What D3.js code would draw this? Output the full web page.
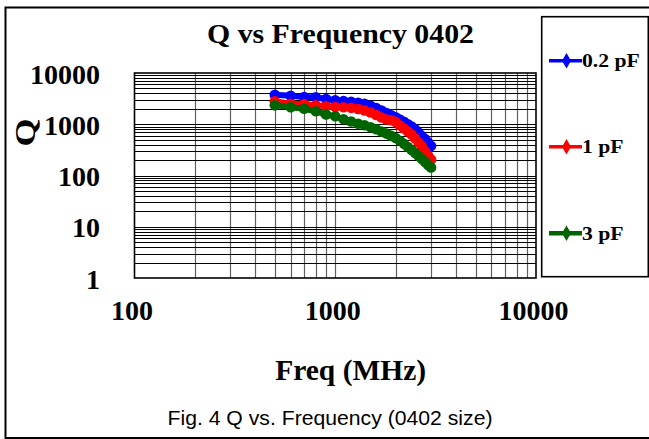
<!DOCTYPE html>
<html><head><meta charset="utf-8">
<script src="https://cdn.jsdelivr.net/npm/d3@7/dist/d3.min.js"></script>
<style>html,body{margin:0;padding:0;background:#fff;}svg{display:block;}</style>
</head><body>
<svg id="c" width="649" height="439"></svg>
<script>
const freqs = [500,600,700,800,900,1000,1100,1200,1300,1400,1500,1600,1700,1800,1900,2000,2100,2200,2300,2400,2500,2600,2700,2800,2900,3000];
const q02pF = [3770,3600,3400,3360,3110,2930,2830,2730,2620,2500,2290,2080,1860,1660,1500,1370,1230,1120,1000,900,800,690,590,515,440,376];
const q1pF  = [2800,2520,2480,2340,2240,2170,2140,2090,1980,1850,1700,1515,1355,1240,1195,1110,945,826,722,631,527,440,368,295,245,205];
const q3pF  = [2340,2140,2010,1790,1550,1430,1250,1130,1025,954,876,801,719,657,593,539,475,415,361,315,275,240,210,183,160,143];
const seriesNames = ["0.2 pF","1 pF","3 pF"];
const seriesColors = ["#0000ff","#ff0000","#006400"];
const xTicks = [100,1000,10000];
const yTicks = [1,10,100,1000,10000];
const titleText = "Q vs Frequency 0402";
const xTitle = "Freq (MHz)";
const yTitle = "Q";
const caption = "Fig. 4 Q vs. Frequency (0402 size)";

const svg = d3.select("#c");
const L = 134.5, R = 536, T = 73, B = 278;
const x = d3.scaleLog().domain([100,10000]).range([L,R]);
const y = d3.scaleLog().domain([1,10000]).range([B,T]);
const serif = "'Liberation Serif','Times New Roman',serif";

// outer frame
svg.append("rect").attr("x",5.5).attr("y",7.5).attr("width",700).attr("height",430.5)
  .attr("fill","none").attr("stroke","#000").attr("stroke-width",2);

// minor grid values
const minorX = [], minorY = [];
[100,1000].forEach(d=>{for(let k=2;k<=9;k++) minorX.push(d*k);});
[1,10,100,1000].forEach(d=>{for(let k=2;k<=9;k++) minorY.push(d*k);});

const g = svg.append("g");
g.selectAll(".vx").data(minorX.concat([1000])).join("line")
  .attr("x1",d=>Math.round(x(d))+0.5).attr("x2",d=>Math.round(x(d))+0.5)
  .attr("y1",T).attr("y2",B).attr("stroke","#606060").attr("stroke-width",1.2);
g.selectAll(".hy").data(minorY.concat([10,100,1000])).join("line")
  .attr("y1",d=>Math.round(y(d))+0.5).attr("y2",d=>Math.round(y(d))+0.5)
  .attr("x1",L).attr("x2",R).attr("stroke","#000").attr("stroke-width",1);
g.append("rect").attr("x",L).attr("y",T).attr("width",R-L).attr("height",B-T)
  .attr("fill","none").attr("stroke","#000").attr("stroke-width",1.6);

// axes labels via d3 axes (no domain/ticks lines)
const xAxis = svg.append("g").attr("transform",`translate(-3,${B})`)
  .call(d3.axisBottom(x).tickValues(xTicks).tickFormat(d3.format("d")).tickSize(0));
xAxis.select(".domain").remove();
xAxis.selectAll("text").attr("font-family",serif).attr("font-weight","bold")
  .attr("font-size",28).attr("fill","#000").attr("dy",null).attr("y",42);

const yAxis = svg.append("g").attr("transform",`translate(100,0)`)
  .call(d3.axisLeft(y).tickValues(yTicks).tickFormat(d3.format("d")).tickSize(0).tickPadding(0));
yAxis.select(".domain").remove();
yAxis.selectAll("text").attr("font-family",serif).attr("font-weight","bold")
  .attr("font-size",28).attr("fill","#000").attr("dy",null).attr("y",10);

// titles
svg.append("text").attr("x",340.5).attr("y",43.3).attr("text-anchor","middle")
  .attr("font-family",serif).attr("font-weight","bold").attr("font-size",28)
  .attr("textLength",267).attr("lengthAdjust","spacingAndGlyphs").text(titleText);
svg.append("text").attr("x",350.7).attr("y",380).attr("text-anchor","middle")
  .attr("font-family",serif).attr("font-weight","bold").attr("font-size",30)
  .attr("textLength",151).attr("lengthAdjust","spacingAndGlyphs").text(xTitle);
svg.append("text").attr("transform","translate(35,132.5) rotate(-90)").attr("text-anchor","middle")
  .attr("font-family",serif).attr("font-weight","bold").attr("font-size",30)
  .attr("textLength",28).attr("lengthAdjust","spacingAndGlyphs").text(yTitle);
svg.append("text").attr("x",330).attr("y",425).attr("text-anchor","middle")
  .attr("font-family","'Liberation Sans',Arial,sans-serif").attr("font-size",21)
  .attr("textLength",325).attr("lengthAdjust","spacingAndGlyphs").text(caption);

// series
const allSeries = [q02pF,q1pF,q3pF];
const line = d3.line().x(d=>x(d[0])).y(d=>y(d[1]));
allSeries.forEach((vals,i)=>{
  const pts = freqs.map((f,j)=>[f,vals[j]]);
  const sg = svg.append("g");
  sg.append("path").attr("d",line(pts)).attr("fill","none")
    .attr("stroke",seriesColors[i]).attr("stroke-width",6);
  sg.selectAll("circle").data(pts).join("circle")
    .attr("cx",d=>x(d[0])).attr("cy",d=>y(d[1])).attr("r",5.3).attr("fill",seriesColors[i]);
});

// legend
svg.append("rect").attr("x",541.7).attr("y",16.7).attr("width",106.6).attr("height",260)
  .attr("fill","#fff").attr("stroke","#000").attr("stroke-width",1.6);
const legY = [60.7,146.7,233.3];
seriesNames.forEach((n,i)=>{
  const lg = svg.append("g");
  lg.append("line").attr("x1",549).attr("x2",582).attr("y1",legY[i]).attr("y2",legY[i])
    .attr("stroke",seriesColors[i]).attr("stroke-width",i===2?4.5:3.5);
  lg.append("path").attr("d",d3.symbol(d3.symbolDiamond,70)())
    .attr("transform",`translate(566.5,${legY[i]})`).attr("fill",seriesColors[i]);
  const t = lg.append("text").attr("x",582).attr("y",legY[i]+6.5)
    .attr("font-family",serif).attr("font-weight","bold").attr("font-size",19).text(n);
  const w = t.node().getComputedTextLength();
  t.attr("textLength",w*1.14).attr("lengthAdjust","spacingAndGlyphs");
});
</script>
</body></html>
